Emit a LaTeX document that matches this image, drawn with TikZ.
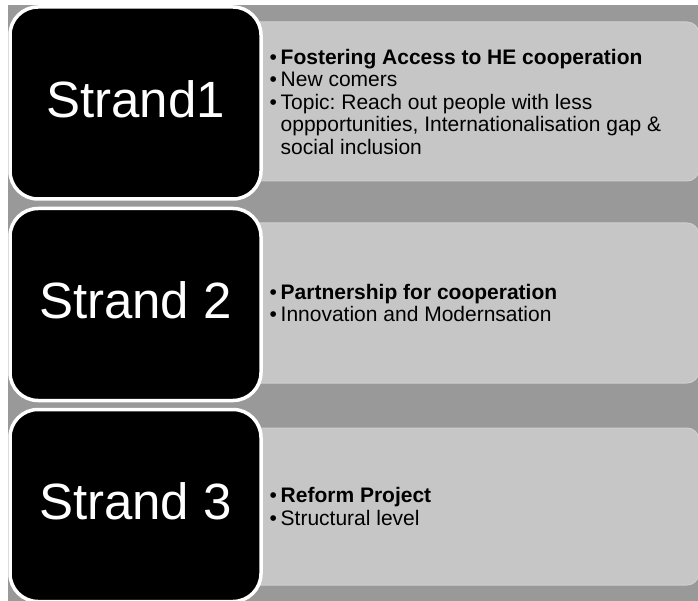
\documentclass[tikz,border=0pt]{standalone}
\usepackage{fontspec}
\setmainfont{Liberation Sans}
\definecolor{backgray}{RGB}{153,153,153}
\definecolor{panelgray}{RGB}{198,198,198}
\definecolor{paneledge}{RGB}{207,207,207}
\newcommand{\bul}{\makebox[11pt][l]{\textbullet}}
\newcommand{\ind}{\hspace*{11pt}}
\frenchspacing

\begin{document}
\begin{tikzpicture}[x=1pt, y=-1pt,
    strand/.style={draw=white, line width=3.5pt, fill=black, rounded corners=28pt,
      minimum width=251pt, minimum height=192pt, text=white, text depth=8pt,
      font=\fontsize{51}{51}\selectfont},
    panel/.style={draw=paneledge, line width=1pt, fill=panelgray, rounded corners=12pt,
      minimum width=470pt, inner sep=0pt},
    items/.style={align=left, inner sep=0pt, font=\fontsize{21}{22.5}\selectfont}]
  \useasboundingbox (0,0) rectangle (698,601);

  % Background
  \fill[white] (0,0) rectangle (698,601);
  \fill[backgray] (8,5) rectangle (698,601);

  % Grey panels (behind the strands)
  \node[panel, minimum height=159pt] (panel1) at (464,101.5) {};
  \node[panel, minimum height=160pt] (panel2) at (464,303) {};
  \node[panel, minimum height=157pt] (panel3) at (464,506.5) {};

  % Strand boxes
  \node[strand] (strand1) at (135.5,103) {Strand1};
  \node[strand] (strand2) at (135.5,304.5) {Strand 2};
  \node[strand] (strand3) at (135.5,505.5) {Strand 3};

  % Bullet texts
  \node[items, anchor=west] (items1) at ([xshift=41pt]panel1.west)
    {\bul\textbf{Fostering Access to HE cooperation}\\
     \bul New comers\\
     \bul Topic: Reach out people with less\\
     \ind oppportunities, Internationalisation gap \&\\
     \ind social inclusion};
  \node[items, anchor=west] (items2) at ([xshift=41pt]panel2.west)
    {\bul\textbf{Partnership for cooperation}\\
     \bul Innovation and Modernsation};
  \node[items, anchor=west] (items3) at ([xshift=41pt]panel3.west)
    {\bul\textbf{Reform Project}\\
     \bul Structural level};
\end{tikzpicture}
\end{document}
